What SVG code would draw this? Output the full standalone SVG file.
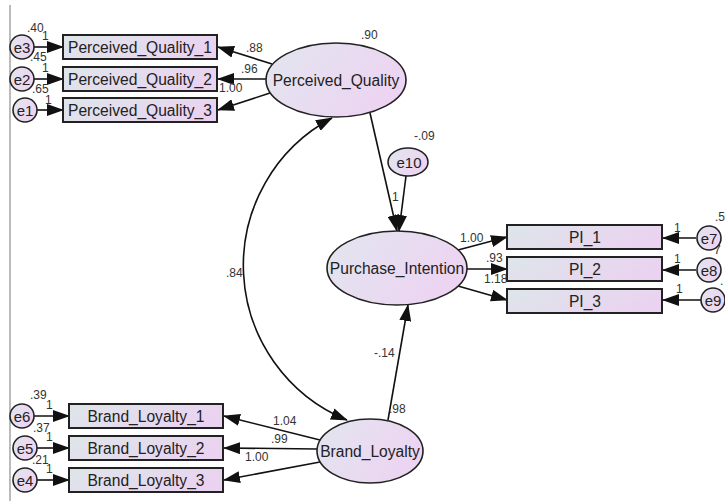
<svg xmlns="http://www.w3.org/2000/svg" width="725" height="501" viewBox="0 0 725 501">
<defs>
<linearGradient id="gb" x1="0" y1="0" x2="1" y2="0.3">
<stop offset="0" stop-color="#dde6ea"/><stop offset="1" stop-color="#ead3f0"/>
</linearGradient>
<linearGradient id="ge" x1="0" y1="0" x2="1" y2="0.4">
<stop offset="0" stop-color="#e2e6ef"/><stop offset="1" stop-color="#edd4f2"/>
</linearGradient>
<marker id="ah" markerUnits="userSpaceOnUse" markerWidth="17" markerHeight="12" refX="16" refY="6" orient="auto-start-reverse" viewBox="0 0 17 12">
<path d="M0,0 L17,6 L0,12 Z" fill="#111"/>
</marker>
<style>
.box{fill:url(#gb);stroke:#222;stroke-width:2}
.ell{fill:url(#ge);stroke:#222;stroke-width:1.6}
.bt{font-family:"Liberation Sans",Arial,sans-serif;font-size:15.6px;fill:#222;text-anchor:middle}
.et{font-family:"Liberation Sans",Arial,sans-serif;font-size:15px;fill:#222;text-anchor:middle}
.lb{font-family:"Liberation Sans",Arial,sans-serif;font-size:12px;fill:#333}
.cn{stroke:#111;stroke-width:1.6;fill:none;marker-end:url(#ah)}
</style>
</defs>
<rect width="725" height="501" fill="#fff"/>
<line x1="10" y1="5" x2="10" y2="501" stroke="#bbb" stroke-width="2"/>

<g id="connectors">
<line class="cn" x1="34" y1="47" x2="63" y2="47"/>
<line class="cn" x1="34" y1="79" x2="63" y2="79"/>
<line class="cn" x1="37" y1="110" x2="63" y2="110"/>
<line class="cn" x1="272" y1="64" x2="218" y2="47"/>
<line class="cn" x1="266" y1="79" x2="218" y2="79"/>
<line class="cn" x1="270" y1="93" x2="218" y2="110"/>
<line class="cn" x1="370" y1="113" x2="397" y2="231"/>
<line class="cn" x1="406" y1="176" x2="399" y2="231"/>
<line class="cn" x1="458" y1="250" x2="507" y2="237"/>
<line class="cn" x1="467" y1="269" x2="507" y2="269"/>
<line class="cn" x1="458" y1="286" x2="507" y2="300"/>
<line class="cn" x1="696" y1="238" x2="663" y2="238"/>
<line class="cn" x1="696" y1="270" x2="663" y2="270"/>
<line class="cn" x1="701" y1="300" x2="663" y2="300"/>
<line class="cn" x1="388" y1="420" x2="408" y2="305"/>
<line class="cn" x1="320" y1="440" x2="224" y2="416"/>
<line class="cn" x1="317" y1="449" x2="224" y2="448"/>
<line class="cn" x1="320" y1="462" x2="224" y2="480"/>
<line class="cn" x1="34" y1="416" x2="69" y2="416"/>
<line class="cn" x1="37" y1="448" x2="69" y2="448"/>
<line class="cn" x1="37" y1="480" x2="69" y2="480"/>
<path class="cn" d="M332,118 A167,167 0 0,0 347,420" marker-start="url(#ah)"/>
</g>

<g id="PQ1"><rect class="box" x="63" y="35" width="154" height="24"/><text class="bt" x="140" y="52.5">Perceived_Quality_1</text></g>
<g id="PQ2"><rect class="box" x="63" y="67" width="154" height="24"/><text class="bt" x="140" y="84.5">Perceived_Quality_2</text></g>
<g id="PQ3"><rect class="box" x="63" y="98" width="154" height="24"/><text class="bt" x="140" y="115.5">Perceived_Quality_3</text></g>

<g id="e3"><circle class="ell" cx="22" cy="47" r="12"/><text class="et" x="22" y="52.5">e3</text></g>
<g id="e2"><circle class="ell" cx="22" cy="79" r="12"/><text class="et" x="22" y="84.5">e2</text></g>
<g id="e1"><circle class="ell" cx="25" cy="110" r="12"/><text class="et" x="25" y="115.5">e1</text></g>

<g id="Perceived_Quality"><ellipse class="ell" cx="336" cy="80" rx="70" ry="37"/><text class="bt" x="336" y="86">Perceived_Quality</text></g>
<g id="e10"><ellipse class="ell" cx="408" cy="162" rx="20" ry="14"/><text class="et" x="409" y="167.5">e10</text></g>
<g id="Purchase_Intention"><ellipse class="ell" cx="397" cy="268" rx="70" ry="37"/><text class="bt" x="397" y="274">Purchase_Intention</text></g>
<g id="Brand_Loyalty"><ellipse class="ell" cx="370" cy="451" rx="53" ry="32"/><text class="bt" x="370" y="457">Brand_Loyalty</text></g>

<g id="PI1"><rect class="box" x="507" y="225" width="155" height="24"/><text class="bt" x="585" y="243">PI_1</text></g>
<g id="PI2"><rect class="box" x="507" y="257" width="155" height="24"/><text class="bt" x="585" y="275">PI_2</text></g>
<g id="PI3"><rect class="box" x="507" y="289" width="155" height="24"/><text class="bt" x="585" y="307">PI_3</text></g>

<text class="lb" x="715" y="221">.5</text>
<text class="lb" x="714" y="254">7</text>
<text class="lb" x="720" y="285">.</text>
<g id="e7"><circle class="ell" cx="709" cy="238" r="12"/><text class="et" x="709" y="243.5">e7</text></g>
<g id="e8"><circle class="ell" cx="709" cy="270" r="12"/><text class="et" x="709" y="275.5">e8</text></g>
<g id="e9"><circle class="ell" cx="713" cy="300" r="12"/><text class="et" x="713" y="305.5">e9</text></g>

<g id="BL1"><rect class="box" x="69" y="404" width="154" height="24"/><text class="bt" x="146" y="421.5">Brand_Loyalty_1</text></g>
<g id="BL2"><rect class="box" x="69" y="436" width="154" height="24"/><text class="bt" x="146" y="453.5">Brand_Loyalty_2</text></g>
<g id="BL3"><rect class="box" x="69" y="468" width="154" height="24"/><text class="bt" x="146" y="485.5">Brand_Loyalty_3</text></g>

<g id="e6"><circle class="ell" cx="22" cy="416" r="12"/><text class="et" x="22" y="421.5">e6</text></g>
<g id="e5"><circle class="ell" cx="25" cy="448" r="12"/><text class="et" x="25" y="453.5">e5</text></g>
<g id="e4"><circle class="ell" cx="25" cy="480" r="12"/><text class="et" x="25" y="485.5">e4</text></g>

<g id="labels" class="lb">
<text x="27" y="32">.40</text>
<text x="42" y="40">1</text>
<text x="30" y="61">.45</text>
<text x="42" y="72">1</text>
<text x="32" y="93">.65</text>
<text x="45" y="104">1</text>
<text x="246" y="52">.88</text>
<text x="241" y="73">.96</text>
<text x="219" y="92">1.00</text>
<text x="361" y="39">.90</text>
<text x="414" y="140">-.09</text>
<text x="392" y="201">1</text>
<text x="460" y="242">1.00</text>
<text x="486" y="262">.93</text>
<text x="484" y="283">1.18</text>
<text x="674" y="232">1</text>
<text x="674" y="263">1</text>
<text x="676" y="293">1</text>
<text x="226" y="277">.84</text>
<text x="374" y="357">-.14</text>
<text x="389" y="413">.98</text>
<text x="273" y="425">1.04</text>
<text x="271" y="443">.99</text>
<text x="245" y="461">1.00</text>
<text x="30" y="399">.39</text>
<text x="46" y="409">1</text>
<text x="33" y="432">.37</text>
<text x="46" y="441">1</text>
<text x="32" y="464">.21</text>
<text x="46" y="473">1</text>
</g>
</svg>
